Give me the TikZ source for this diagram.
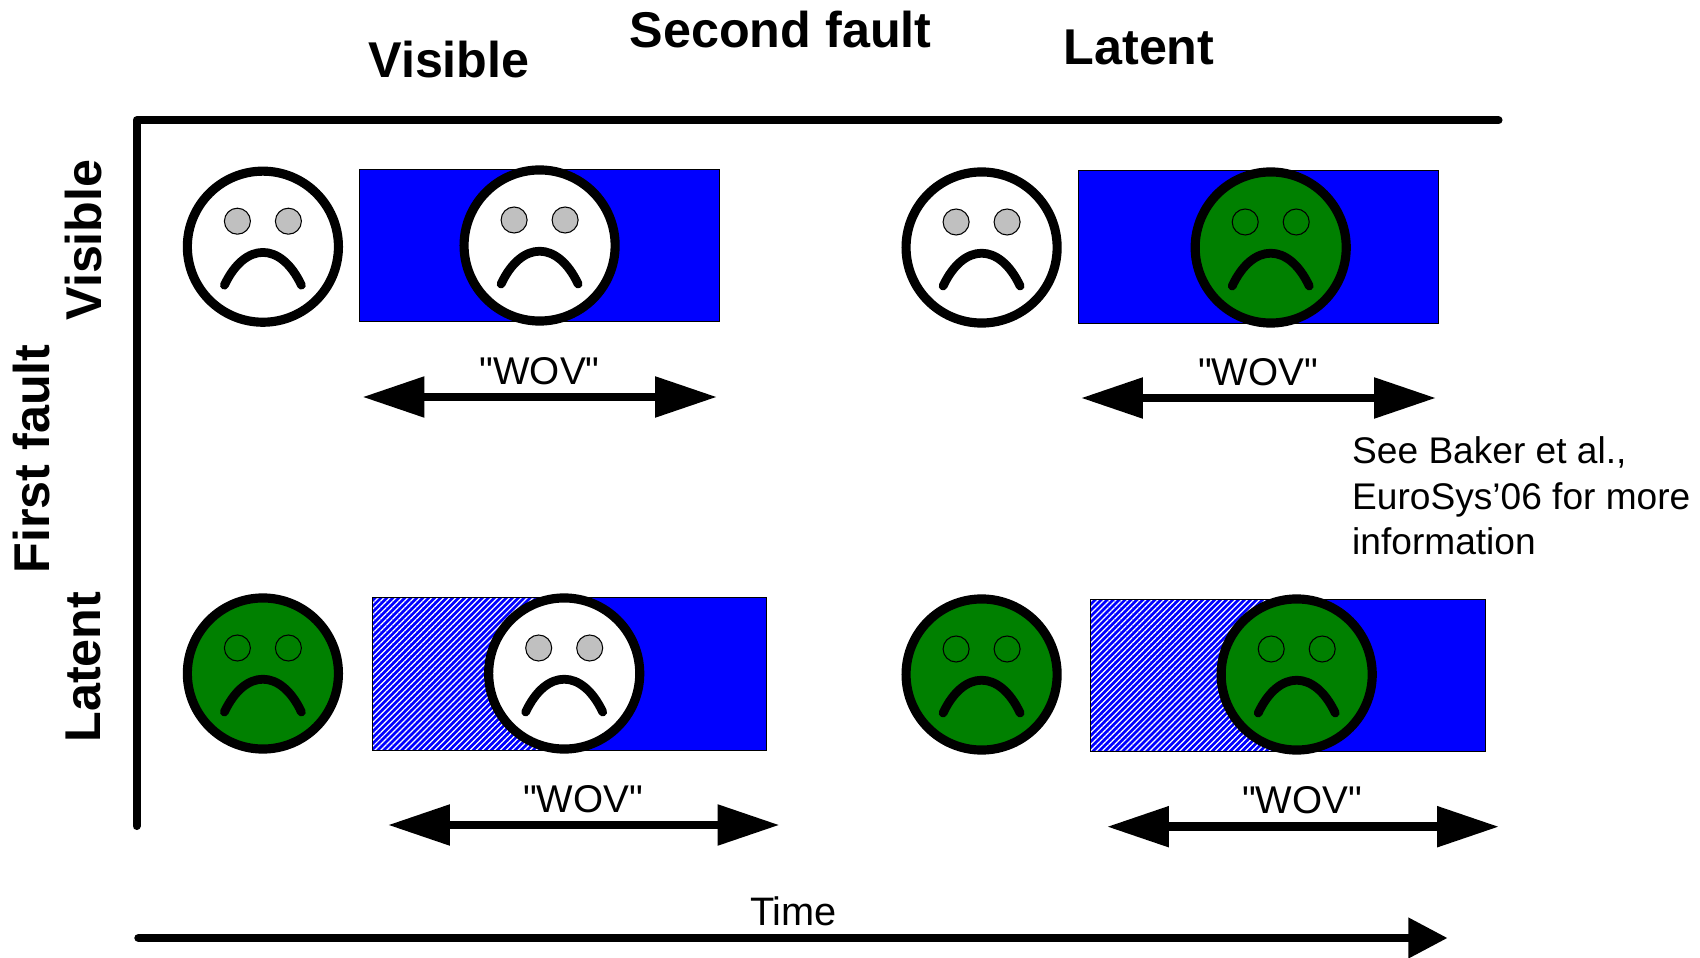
\documentclass[tikz,border=0pt]{standalone}
\usepackage{fontspec}
\setmainfont{Liberation Sans}
\newfontfamily\plainfont{Liberation Sans}
\usetikzlibrary{arrows.meta,patterns.meta}
\definecolor{facegreen}{HTML}{008000}
\definecolor{eyegray}{HTML}{C0C0C0}
\tikzset{
  facecircle/.style={circle,draw=black,line width=2.6pt,minimum size=1.51cm,inner sep=0pt},
  eyecircle/.style={circle,draw=black,line width=0.3pt,minimum size=0.26cm,inner sep=0pt},
  mouthline/.style={line width=2.5pt,line cap=round},
  wovbox/.style={draw=black,line width=0.3pt,fill=blue,inner sep=0pt,minimum height=1.52cm},
  hatchbox/.style={draw=black,line width=0.3pt,inner sep=0pt,minimum height=1.52cm,anchor=west,
    pattern={Lines[angle=45,distance=1.2pt,line width=0.35pt]},pattern color=white},
  wovarrow/.style={line width=2.4pt,{Triangle[length=17.6pt,width=11.1pt]}-{Triangle[length=17.6pt,width=11.1pt]}},
  bigtitle/.style={font=\fontsize{14.3}{17}\selectfont\bfseries,inner sep=0pt},
  wovtext/.style={font=\plainfont\fontsize{11}{13}\selectfont,inner sep=0pt},
  plaintext/.style={font=\plainfont\fontsize{11.3}{13}\selectfont,inner sep=0pt}
}
\newcommand{\sadface}[4]{%
  \node [facecircle,fill=#3] (#1) at (#2) {};
  \node [eyecircle,fill=#4] (#1eyeL) at ([shift={(-25.5,-25.5)}]#1.center) {};
  \node [eyecircle,fill=#4] (#1eyeR) at ([shift={(25.5,-25.5)}]#1.center) {};
  \draw [mouthline] ([shift={(-38.5,38.5)}]#1.center) .. controls ([shift={(-18,-5.2)}]#1.center) and ([shift={(18,-5.2)}]#1.center) .. ([shift={(38.5,38.5)}]#1.center);
}
\begin{document}
\begin{tikzpicture}[x=0.01cm,y=-0.01cm]
  \useasboundingbox (0,0) rectangle (1700,958);

  % axes
  \coordinate (axisBottom) at (136.6,826);
  \coordinate (axisCorner) at (136.6,120.3);
  \coordinate (axisRight)  at (1498.5,120.3);
  \draw [line width=2.3pt,line cap=round,line join=round] (axisBottom) -- (axisCorner) -- (axisRight);

  % titles
  \node [bigtitle] (titleSecond) at (780.6,30) {Second fault};
  \node [bigtitle] (titleVisible) at (449,60) {Visible};
  \node [bigtitle] (titleLatent) at (1139,47) {Latent};
  \node [bigtitle,rotate=90] (titleFirst) at (32,459) {First fault};
  \node [bigtitle,rotate=90] (rowVisible) at (84,240) {Visible};
  \node [bigtitle,rotate=90] (rowLatent) at (83.5,667) {Latent};

  % blue boxes
  \node [wovbox,minimum width=3.6cm]   (boxA) at (539.4,245.6) {};
  \node [wovbox,minimum width=3.6cm]   (boxB) at (1258.7,247) {};
  \node [wovbox,minimum width=3.94cm]  (boxC) at (569.8,674) {};
  \node [hatchbox,minimum width=2cm]   (hatchC) at (boxC.west) {};
  \node [wovbox,minimum width=3.95cm]  (boxD) at (1287.9,675.2) {};
  \node [hatchbox,minimum width=2.06cm] (hatchD) at (boxD.west) {};

  % faces
  \sadface{faceA}{262.9,246.7}{white}{eyegray}
  \sadface{faceB}{539.6,245.5}{white}{eyegray}
  \sadface{faceC}{981.6,247.5}{white}{eyegray}
  \sadface{faceD}{1270.7,247.5}{facegreen}{facegreen}
  \sadface{faceE}{262.9,673.5}{facegreen}{facegreen}
  \sadface{faceF}{564.2,673.5}{white}{eyegray}
  \sadface{faceG}{981.6,674.5}{facegreen}{facegreen}
  \sadface{faceH}{1296.7,674.5}{facegreen}{facegreen}

  % window of vulnerability arrows
  \coordinate (wovAl) at (362.5,397);
  \coordinate (wovAr) at (717,397);
  \coordinate (wovBl) at (1081,398);
  \coordinate (wovBr) at (1436,398);
  \coordinate (wovCl) at (388,825);
  \coordinate (wovCr) at (779.5,825);
  \coordinate (wovDl) at (1107,826.7);
  \coordinate (wovDr) at (1499,826.7);
  \draw [wovarrow] (wovAl) -- (wovAr);
  \draw [wovarrow] (wovBl) -- (wovBr);
  \draw [wovarrow] (wovCl) -- (wovCr);
  \draw [wovarrow] (wovDl) -- (wovDr);
  \node [wovtext] (wovA) at (539.6,371) {"WOV"};
  \node [wovtext] (wovB) at (1258,372) {"WOV"};
  \node [wovtext] (wovC) at (583,799) {"WOV"};
  \node [wovtext] (wovD) at (1302,800) {"WOV"};

  % note
  \node [plaintext,align=left,anchor=west,font=\plainfont\fontsize{10.55}{12.95}\selectfont] (note) at (1351.5,496) {See Baker et al.,\\EuroSys’06 for more\\information};

  % time
  \coordinate (timeL) at (138.5,938);
  \coordinate (timeR) at (1447.7,938);
  \draw [line width=2.4pt,line cap=round,-{Triangle[length=11.2pt,width=11pt]}] (timeL) -- (timeR);
  \node [plaintext] (timeLabel) at (793.5,911.5) {Time};
\end{tikzpicture}
\end{document}
